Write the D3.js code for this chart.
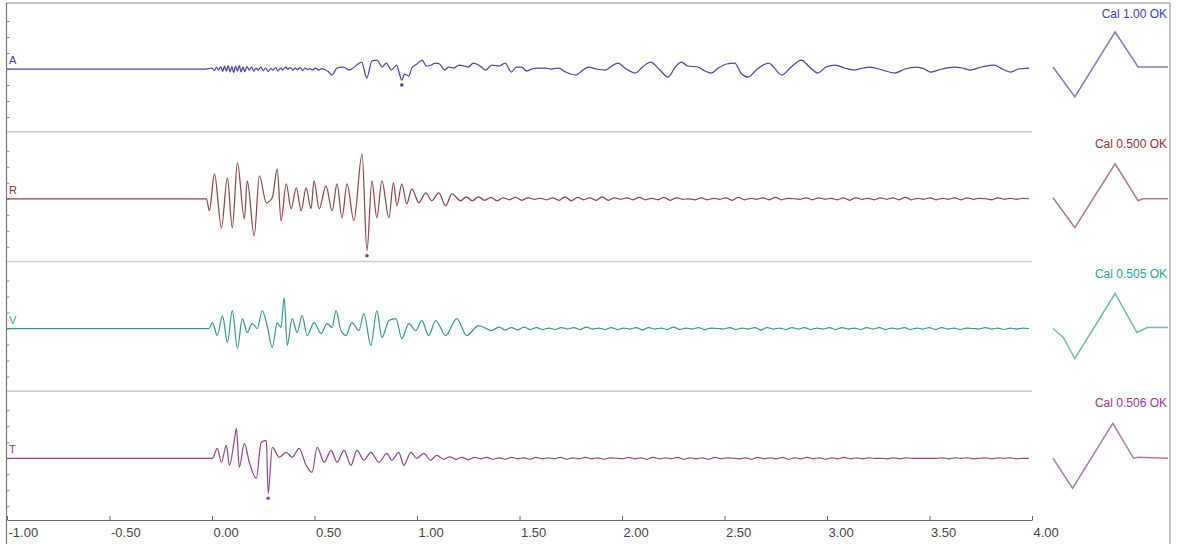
<!DOCTYPE html>
<html>
<head>
<meta charset="utf-8">
<script src="https://cdn.jsdelivr.net/npm/d3@7"></script>
<style>
  body { margin: 0; background: #fff; }
  svg { display: block; }
  text { font-family: "Liberation Sans", Arial, sans-serif; }
</style>
</head>
<body>
<svg id="chart" width="1177" height="544"></svg>
<script>
// channels, top to bottom
var channels = ['A', 'R', 'V', 'T'];
var calLabels = ['Cal 1.00 OK', 'Cal 0.500 OK', 'Cal 0.505 OK', 'Cal 0.506 OK'];
var traceColors = ['#4848a4', '#884848', '#3a9890', '#8c4a8c'];
var labelColors = ['#3c3cbc', '#8c3434', '#2ea394', '#973797'];
var timeTicks = [-1, -0.5, 0, 0.5, 1, 1.5, 2, 2.5, 3, 3.5, 4];
var gridTicks = [-4.8, -3.2, -1.6, 0, 1.6, 3.2, 4.8];

// [time (s), amplitude]
var burstA = [[-1,0],[-0.03,0],[0.0,0.1],[0.012,-0.15],[0.022,0.2],[0.033,-0.1],[0.043,0.25],[0.052,-0.25],
  [0.061,0.3],[0.07,-0.2],[0.079,0.35],[0.088,-0.3],[0.097,0.25],[0.106,-0.35],[0.115,0.3],[0.124,-0.2],
  [0.133,0.35],[0.142,-0.3],[0.151,0.2],[0.160,-0.25],[0.171,0.25],[0.182,-0.1],[0.193,0.2],[0.204,-0.2],
  [0.215,0.1],[0.226,-0.1],[0.238,0.2],[0.25,-0.15],[0.262,0.1],[0.274,-0.25],[0.286,0.05],[0.298,-0.1],
  [0.31,0.15],[0.322,-0.2],[0.334,0.1],[0.346,-0.1],[0.358,0.2],[0.37,0.0],[0.382,0.15],[0.394,-0.1],
  [0.406,0.1],[0.418,-0.05],[0.43,0.15],[0.442,-0.15],[0.454,0.1],[0.466,-0.05],[0.478,0.05],[0.49,-0.1],
  [0.505,0.1],[0.52,-0.1],[0.535,0.05],[0.55,-0.05],[0.57,-0.3],[0.585,-0.6],[0.61,0.1],[0.64,0.2],
  [0.67,-0.1],[0.70,0.3],[0.73,0.7],[0.755,-0.9],[0.78,0.8],[0.805,0.9],[0.83,0.2],[0.85,0.6],[0.875,-0.1],
  [0.9,0.4],[0.926,-1.1],[0.94,-0.5],[0.96,-0.7],[0.975,0.1],[1.0,0.5],[1.025,0.9],[1.045,0.3],[1.07,0.4],
  [1.09,0.6],[1.11,0.5],[1.135,-0.1],[1.155,0.2],[1.18,0.1],[1.205,0.4],[1.23,0.3],[1.25,0.2],[1.275,0.6],
  [1.30,0.4],[1.335,-0.1],[1.365,0.4],[1.4,0.3],[1.43,0.6],[1.46,-0.3],[1.485,0.2],[1.51,0.2],[1.535,-0.2],
  [1.56,0.0],[1.59,0.1],[1.625,0.1],[1.655,0.0],[1.69,0.1],[1.725,-0.3],[1.775,-0.6],[1.81,-0.1],[1.835,0.2],
  [1.875,0.0],[1.92,-0.1],[1.95,0.3],[1.98,0.6],[2.02,0.0],[2.065,-0.4],[2.10,0.2],[2.14,0.7],[2.18,0.0],
  [2.225,-0.8],[2.26,0.2],[2.29,0.7],[2.32,0.3],[2.37,0.2],[2.405,-0.2],[2.435,-0.4],[2.47,0.1],[2.51,0.5],
  [2.55,0.6],[2.58,-0.4],[2.615,-0.8],[2.66,0.0],[2.715,0.6],[2.78,-0.6],[2.825,0.2],[2.875,0.9],[2.915,0.2],
  [2.955,-0.4],[2.995,0.2],[3.04,0.4],[3.085,0.1],[3.135,-0.1],[3.175,0.1],[3.21,0.2],[3.27,-0.1],[3.33,-0.4],
  [3.38,0.0],[3.44,0.2],[3.475,0.0],[3.505,-0.3],[3.56,0.0],[3.62,0.2],[3.66,0.1],[3.695,-0.1],[3.755,0.2],
  [3.815,0.4],[3.855,0.0],[3.895,-0.3],[3.935,0.0],[3.985,0.1]];

var burstR = [[-1,0],[-0.027,0],[-0.013,-1.2],[0.012,2.5],[0.046,-2.9],[0.075,2.1],[0.099,-2.9],[0.124,3.6],
  [0.158,-2.0],[0.172,1.8],[0.206,-3.7],[0.231,2.3],[0.265,-0.4],[0.294,0.1],[0.318,3.0],[0.337,-2.2],
  [0.362,1.5],[0.386,-1.0],[0.411,1.1],[0.435,-1.2],[0.459,1.1],[0.483,-1.0],[0.498,1.8],[0.523,-1.0],
  [0.556,1.3],[0.586,-1.2],[0.610,1.5],[0.634,-1.9],[0.659,1.5],[0.692,-2.2],[0.732,4.5],[0.756,-5.2],
  [0.780,1.8],[0.804,-1.9],[0.829,1.8],[0.863,-1.9],[0.885,1.6],[0.902,-0.7],[0.926,1.5],[0.950,-0.5],
  [0.975,1.0],[1.009,-0.4],[1.043,0.6],[1.072,-0.2],[1.106,0.6],[1.14,-0.7],[1.17,0.5],[1.213,-0.2],
  [1.24,0.2],[1.27,-0.2]];

var burstV = [[-1,0],[-0.015,0],[0.002,0.6],[0.026,-0.7],[0.051,1.3],[0.075,-1.4],[0.099,1.8],[0.124,-2.0],
  [0.148,1.0],[0.172,-0.4],[0.196,0.5],[0.221,0.0],[0.245,1.8],[0.269,0.3],[0.294,-1.9],[0.318,0.6],
  [0.337,0.1],[0.352,3.1],[0.367,-1.7],[0.391,1.0],[0.415,-0.4],[0.440,1.3],[0.464,-0.7],[0.498,0.6],
  [0.532,-0.5],[0.561,0.5],[0.586,0.1],[0.605,1.8],[0.629,-0.2],[0.654,-0.7],[0.682,0.6],[0.717,-0.2],
  [0.741,1.5],[0.775,-1.7],[0.804,1.8],[0.829,-0.9],[0.863,0.8],[0.897,1.0],[0.926,-1.0],[0.960,0.5],
  [0.994,-0.2],[1.024,0.8],[1.057,-0.7],[1.091,0.8],[1.140,-0.7],[1.194,1.0],[1.242,-0.7],[1.301,0.3],
  [1.364,-0.2]];

var burstT = [[-1,0],[-0.015,0],[0.002,0],[0.026,1.0],[0.046,-0.4],[0.070,1.3],[0.085,-0.7],[0.109,1.8],
  [0.119,3.0],[0.133,-0.9],[0.158,1.5],[0.182,-0.4],[0.216,-2.0],[0.240,1.6],[0.265,1.8],[0.274,-3.5],
  [0.294,1.1],[0.328,0.1],[0.362,0.6],[0.391,0.1],[0.425,1.0],[0.459,-0.7],[0.488,-1.4],[0.513,1.1],
  [0.547,-0.4],[0.581,0.8],[0.610,-0.4],[0.644,0.8],[0.678,-0.7],[0.707,0.8],[0.741,-0.2],[0.775,0.6],
  [0.814,-0.4],[0.853,0.5],[0.877,-0.2],[0.911,0.6],[0.936,-0.7],[0.970,0.6],[0.999,0.0],[1.033,0.5],
  [1.067,-0.2],[1.096,0.3],[1.13,-0.1]];

// evenly sampled low-level tails, spanning [start, end] seconds
var tailA = [];
var tailR = [0.2,-0.15,0.15,-0.2,0.1,-0.1,0.15,-0.15,0.1,-0.05,
  0.05,-0.1,0.1,-0.15,0.2,-0.2,0.15,-0.1,0.1,-0.15,
  0.2,-0.15,0.1,-0.05,0.1,-0.1,0.15,-0.1,0.05,-0.1,
  0.15,-0.15,0.1,-0.05,0.0,-0.1,0.1,-0.1,0.05,-0.05,
  0.1,-0.15,0.15,-0.1,0.05,-0.05,0.1,-0.1,0.15,-0.1,
  0.05,0.0,-0.05,0.1,-0.1,0.1,-0.05,0.05,-0.1,0.1,
  -0.15,0.1,-0.05,0.05,-0.1,0.1,-0.05,0.1,-0.1,0.15,
  -0.1,0.05,-0.05,0.1,-0.1,0.05,-0.05,0.1,-0.1,0.1,
  -0.05,0.05,0.0,-0.1,0.1,-0.05,0.05,-0.05,0.05,0.0];
var tailV = [0.15,-0.15,0.1,-0.15,0.15,-0.1,0.1,-0.1,0.05,-0.1,
  0.1,-0.05,0.1,-0.1,0.15,-0.05,0.05,-0.1,0.1,-0.1,
  0.05,-0.05,0.1,-0.15,0.1,-0.05,0.05,-0.1,0.15,-0.1,
  0.05,-0.05,0.1,-0.1,0.05,0.0,-0.05,0.1,-0.1,0.05,
  -0.05,0.1,-0.15,0.1,-0.05,0.05,-0.1,0.1,-0.05,0.1,
  -0.1,0.05,-0.05,0.1,-0.1,0.1,-0.05,0.05,-0.1,0.1,
  -0.05,0.1,-0.1,0.05,-0.05,0.1,-0.1,0.05,-0.05,0.1,
  -0.1,0.1,-0.05,0.05,-0.1,0.05,0.0,-0.05,0.1,-0.05,
  0.05,-0.1,0.05,-0.05,0.05,0.0];
var tailT = [0.15,-0.1,0.1,-0.15,0.1,-0.05,0.1,-0.1,0.05,-0.1,
  0.1,-0.05,0.05,-0.1,0.1,-0.05,0.05,-0.05,0.1,-0.1,
  0.05,-0.05,0.1,-0.05,0.05,-0.1,0.05,0.0,-0.05,0.1,
  -0.05,0.05,-0.1,0.1,-0.05,0.05,-0.05,0.1,-0.1,0.05,
  -0.05,0.05,-0.1,0.1,-0.05,0.05,0.0,-0.05,0.05,-0.1,
  0.1,-0.05,0.05,-0.05,0.1,-0.1,0.05,-0.05,0.1,-0.05,
  0.05,-0.1,0.05,-0.05,0.1,-0.05,0.05,-0.05,0.05,0.0,
  0.0,-0.05,0.05,-0.05,0.05,0.0,0.0,0.0,0.0,0.0,
  0.05,-0.05,0.05,0.0,0.05,-0.05,0.0,0.05,-0.05,0.05,
  0.0,0.05,-0.05,0.0,0.0];
var tailSpans = [[0, 0], [1.30, 3.985], [1.40, 3.985], [1.16, 3.985]];

// calibration pulses: [fraction of pulse window, amplitude]
var calA = [[0,0.2],[0.19,-2.8],[0.54,3.7],[0.74,0.2],[1,0.2]];
var calR = [[0,0.1],[0.19,-2.9],[0.54,3.5],[0.74,-0.2],[0.78,0],[1,0]];
var calV = [[0,0],[0.09,-0.9],[0.19,-3.0],[0.54,3.5],[0.73,-0.4],[0.82,0.1],[1,0.1]];
var calT = [[0,0],[0.17,-3.0],[0.52,3.5],[0.70,0],[0.74,0.1],[1,0]];

// peak markers (time of the marked sample)
var peakChannels = ['A', 'R', 'T'];
var peakTimes = [0.926, 0.756, 0.274];

var bursts = [burstA, burstR, burstV, burstT];
var tails = [tailA, tailR, tailV, tailT];
var cals = [calA, calR, calV, calT];

var svg = d3.select('#chart');
var x = d3.scaleLinear().domain([-1, 4]).range([7, 1032]);
var band = d3.scaleBand().domain(channels).range([2, 521]);
var y = d3.scaleLinear().domain([-6.5, 6.5]).range([65, -65]);
var calX = d3.scaleLinear().domain([0, 1]).range([1053, 1168]);

function series(i) {
  var pts = bursts[i].slice();
  var tail = tails[i];
  if (tail.length) {
    var at = d3.scaleLinear().domain([0, tail.length - 1]).range(tailSpans[i]);
    tail.forEach(function(v, k) { pts.push([at(k), v]); });
  }
  return pts;
}

var line = d3.line().curve(d3.curveMonotoneX)
  .x(function(d) { return x(d[0]); }).y(function(d) { return y(d[1]); });
var calLine = d3.line().x(function(d) { return calX(d[0]); }).y(function(d) { return y(d[1]); });

// frame
svg.append('line').attr('x1', 6).attr('x2', 1170).attr('y1', 3).attr('y2', 3)
  .attr('stroke', '#8a8a8a').attr('stroke-width', 1.2);
svg.append('line').attr('x1', 1170).attr('x2', 1170).attr('y1', 3).attr('y2', 544)
  .attr('stroke', '#9a9a9a').attr('stroke-width', 1.2);
svg.append('line').attr('x1', 6.5).attr('x2', 6.5).attr('y1', 3).attr('y2', 544)
  .attr('stroke', '#777').attr('stroke-width', 1.2);

// separators between channels
svg.selectAll('.sep').data(channels.slice(1)).enter().append('line')
  .attr('class', 'sep')
  .attr('x1', x(-1)).attr('x2', x(4))
  .attr('y1', function(d) { return band(d); })
  .attr('y2', function(d) { return band(d); })
  .attr('stroke', '#cacaca').attr('stroke-width', 1.6);

channels.forEach(function(ch, i) {
  var base = band(ch) + 67;
  var g = svg.append('g').attr('transform', 'translate(0,' + base + ')');

  var ax = g.append('g').attr('transform', 'translate(6.5,0)')
    .call(d3.axisLeft(y).tickValues(gridTicks).tickSize(-3).tickFormat(''));
  ax.select('.domain').remove();
  ax.selectAll('line').attr('stroke', '#888');

  var pts = series(i);
  g.append('path').datum(pts)
    .attr('d', line)
    .attr('fill', 'none')
    .attr('stroke', traceColors[i])
    .attr('stroke-width', 1.25)
    .attr('stroke-linejoin', 'round');

  g.append('path').datum(cals[i])
    .attr('d', calLine)
    .attr('fill', 'none')
    .attr('stroke', traceColors[i])
    .attr('stroke-opacity', 0.7)
    .attr('stroke-width', 1.5);

  g.append('text')
    .attr('x', 9).attr('y', -5)
    .attr('font-size', 11)
    .attr('fill', labelColors[i])
    .text(ch);

  g.append('text')
    .attr('x', 1167).attr('y', -51)
    .attr('text-anchor', 'end')
    .attr('font-size', 12)
    .attr('fill', labelColors[i])
    .text(calLabels[i]);

  var p = peakChannels.indexOf(ch);
  if (p >= 0) {
    var pk = d3.least(pts, function(d) { return Math.abs(d[0] - peakTimes[p]); });
    g.append('circle')
      .attr('cx', x(pk[0]))
      .attr('cy', y(pk[1]) + 5)
      .attr('r', 1.8)
      .attr('fill', traceColors[i]);
  }
});

// time axis
var xa = svg.append('g').attr('transform', 'translate(0,520)')
  .call(d3.axisBottom(x).tickValues(timeTicks).tickSize(-4).tickSizeOuter(0).tickPadding(8)
    .tickFormat(function(d) { return d.toFixed(2); }));
xa.select('.domain').attr('stroke', '#666').attr('stroke-width', 1.2);
xa.selectAll('line').attr('stroke', '#666');
xa.selectAll('text')
  .attr('text-anchor', 'start')
  .attr('dx', 1)
  .attr('font-size', 13)
  .attr('fill', '#444')
  .style('font-family', '"Liberation Sans", Arial, sans-serif');
</script>
</body>
</html>
